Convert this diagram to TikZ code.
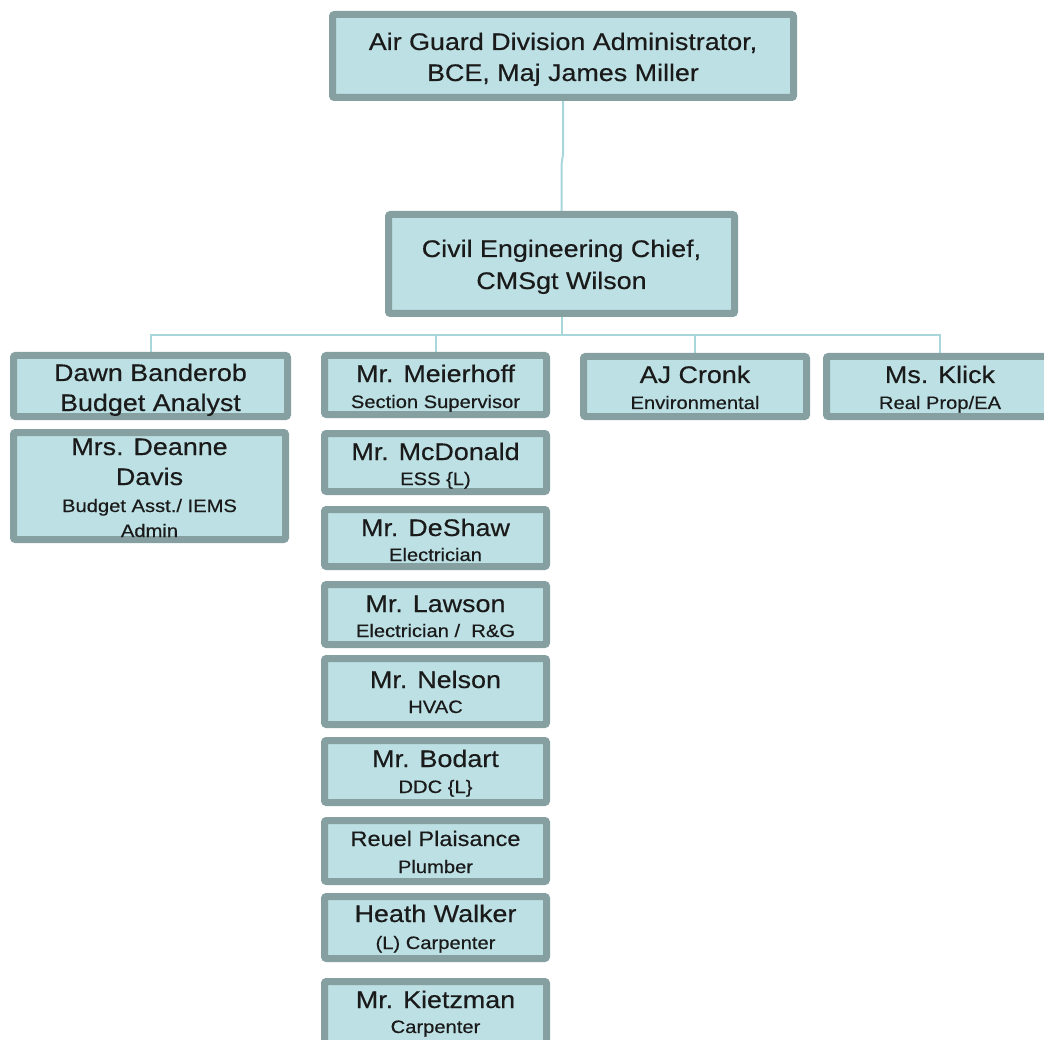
\documentclass[tikz,border=0pt]{standalone}
\usepackage{fontspec}
\setmainfont{Liberation Sans}[FakeStretch=1.12,FakeBold=0.4]
\usetikzlibrary{backgrounds,calc}
\definecolor{boxfill}{HTML}{BCE0E3}
\definecolor{boxline}{HTML}{86A0A2}
\definecolor{conn}{HTML}{A8D7DB}
\definecolor{ink}{HTML}{1A1A1A}
\begin{document}
\begin{tikzpicture}[x=1pt,y=-1pt,
  box/.style={draw=boxline, fill=boxfill, line width=7pt, rounded corners=2pt,
    inner sep=0pt, outer sep=0pt, anchor=north west},
  nm/.style={font=\fontsize{24}{28}\selectfont, anchor=base, inner sep=0pt, text=ink},
  nmsmall/.style={font=\fontsize{21}{24}\selectfont, anchor=base, inner sep=0pt, text=ink},
  sb/.style={font=\fontsize{18}{21}\selectfont, anchor=base, inner sep=0pt, text=ink},
  link/.style={draw=conn, line width=2pt}]
\useasboundingbox (0,0) rectangle (1044,1040);

% boxes
\node[box, minimum width=461pt, minimum height=83pt] (top) at (332.5,14.5) {};
\node[box, minimum width=346pt, minimum height=99pt] (chief) at (388.5,214.5) {};
\node[box, minimum width=274pt, minimum height=61pt] (dawn) at (13.5,355.5) {};
\node[box, minimum width=272pt, minimum height=107pt] (deanne) at (13.5,432.5) {};
\node[box, minimum width=222pt, minimum height=59pt] (meier) at (324.5,355.5) {};
\node[box, minimum width=222pt, minimum height=58pt] (mcdon) at (324.5,433.5) {};
\node[box, minimum width=222pt, minimum height=57pt] (deshaw) at (324.5,509.5) {};
\node[box, minimum width=222pt, minimum height=60pt] (lawson) at (324.5,584.5) {};
\node[box, minimum width=222pt, minimum height=66pt] (nelson) at (324.5,658.5) {};
\node[box, minimum width=222pt, minimum height=62pt] (bodart) at (324.5,740.5) {};
\node[box, minimum width=222pt, minimum height=61pt] (plais) at (324.5,820.5) {};
\node[box, minimum width=222pt, minimum height=62pt] (walker) at (324.5,896.5) {};
\node[box, minimum width=222pt, minimum height=75pt] (kietz) at (324.5,981.5) {};
\node[box, minimum width=223pt, minimum height=60pt] (cronk) at (583.5,356.5) {};
\node[box, minimum width=227pt, minimum height=60pt] (klick) at (826.5,356.5) {};

% background and connectors
\begin{scope}[on background layer]
\fill[white] (0,0) rectangle (1044,1040);
\draw[link] (top.south) -- ++(0,57) -- ($(chief.north)+(0,-50)$) -- (chief.north);
\draw[link] (chief.south) -- ++(0,21.5) coordinate (hub);
\draw[link] (hub) -| (dawn.north);
\draw[link] (hub) -| (meier.north);
\draw[link] (hub) -| (cronk.north);
\draw[link] (hub) -| (klick.north);
\end{scope}

% texts
\node[nm] (t-top1) at (563,50) {Air Guard Division Administrator,};
\node[nm] (t-top2) at (563,81) {BCE, Maj James Miller};
\node[nm] (t-chief1) at (561.5,257) {Civil Engineering Chief,};
\node[nm] (t-chief2) at (561.5,289) {CMSgt Wilson};
\node[nm] (t-dawn1) at (150.5,381) {Dawn Banderob};
\node[nm] (t-dawn2) at (150.5,411) {Budget Analyst};
\node[nm] (t-dea1) at (149.5,455) {Mrs. Deanne};
\node[nm] (t-dea2) at (149.5,485) {Davis};
\node[sb] (t-dea3) at (149.5,512) {Budget Asst./ IEMS};
\node[sb] (t-dea4) at (149.5,537) {Admin};
\node[nm] (t-mei1) at (435.5,382) {Mr. Meierhoff};
\node[sb] (t-mei2) at (435.5,408) {Section Supervisor};
\node[nm] (t-mcd1) at (435.5,460) {Mr. McDonald};
\node[sb] (t-mcd2) at (435.5,485) {ESS \{L)};
\node[nm] (t-des1) at (435.5,536) {Mr. DeShaw};
\node[sb] (t-des2) at (435.5,561) {Electrician};
\node[nm] (t-law1) at (435.5,612) {Mr. Lawson};
\node[sb] (t-law2) at (435.5,637) {Electrician /\ \ R\&G};
\node[nm] (t-nel1) at (435.5,688) {Mr. Nelson};
\node[sb] (t-nel2) at (435.5,713) {HVAC};
\node[nm] (t-bod1) at (435.5,767) {Mr. Bodart};
\node[sb] (t-bod2) at (435.5,793) {DDC \{L\}};
\node[nmsmall] (t-pla1) at (435.5,846) {Reuel Plaisance};
\node[sb] (t-pla2) at (435.5,873) {Plumber};
\node[nm] (t-wal1) at (435.5,922) {Heath Walker};
\node[sb] (t-wal2) at (435.5,949) {(L) Carpenter};
\node[nm] (t-kie1) at (435.5,1008) {Mr. Kietzman};
\node[sb] (t-kie2) at (435.5,1033) {Carpenter};
\node[nm] (t-cro1) at (695,383) {AJ Cronk};
\node[sb] (t-cro2) at (695,409) {Environmental};
\node[nm] (t-kli1) at (940,383) {Ms. Klick};
\node[sb] (t-kli2) at (940,409) {Real Prop/EA};
\end{tikzpicture}
\end{document}
